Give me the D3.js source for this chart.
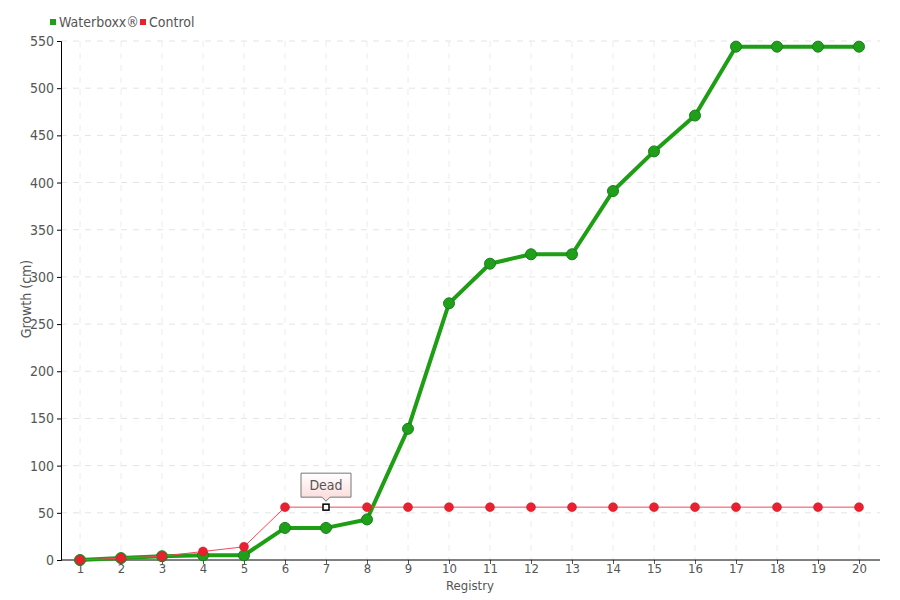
<!DOCTYPE html>
<html><head><meta charset="utf-8">
<script src="https://cdn.jsdelivr.net/npm/d3@7"></script>
<style>
body{margin:0;background:#fff;}
text{font-family:"DejaVu Sans Condensed","Liberation Sans Narrow","Roboto Condensed",sans-serif;}
</style></head>
<body><svg id="c" width="900" height="600"></svg>
<script>
const registry = [1,2,3,4,5,6,7,8,9,10,11,12,13,14,15,16,17,18,19,20];
const waterboxx = [0,2,4,5,5,34,34,43,139,272,314,324,324,391,433,471,544,544,544,544];
const control = [0,2,4,9,14,56,56,56,56,56,56,56,56,56,56,56,56,56,56,56];
const yTicks = [0,50,100,150,200,250,300,350,400,450,500,550];
const seriesNames = ["Waterboxx®","Control"];
const annotation = {index:6, text:"Dead"};

const svg = d3.select("#c");
const m = {l:61, r:880, t:41, b:560};
const x = d3.scaleLinear().domain([1,20]).range([80,859]);
const y = d3.scaleLinear().domain([0,550]).range([m.b,m.t]);

// grid
const g = svg.append("g");
g.selectAll("line.h").data(yTicks.slice(1)).enter().append("line")
 .attr("x1",m.l).attr("x2",m.r).attr("y1",d=>y(d)).attr("y2",d=>y(d))
 .attr("stroke","#e4e4e4").attr("stroke-dasharray","6,6");
g.selectAll("line.v").data(registry).enter().append("line")
 .attr("x1",d=>x(d)).attr("x2",d=>x(d)).attr("y1",m.t).attr("y2",m.b)
 .attr("stroke","#ececec").attr("stroke-dasharray","6,6");

// axes
const yAxis = d3.axisLeft(y).tickValues(yTicks).tickSize(4).tickPadding(3);
const ya = svg.append("g").attr("transform",`translate(${m.l},0)`).call(yAxis);
ya.select(".domain").attr("stroke","#000");
ya.selectAll(".tick line").attr("stroke","#000");
ya.selectAll("text").attr("font-size",14).attr("fill","#555");

const xAxis = d3.axisBottom(x).tickValues(registry).tickSize(4).tickPadding(0).tickFormat(d3.format("d"));
const xa = svg.append("g").attr("transform",`translate(0,${m.b})`).call(xAxis);
xa.select(".domain").remove();
xa.append("line").attr("x1",m.l).attr("x2",m.r).attr("stroke","#000");
xa.selectAll(".tick line").attr("stroke","#555");
xa.selectAll("text").attr("font-size",13).attr("fill","#555");

svg.append("text").attr("x",470).attr("y",590).attr("text-anchor","middle")
 .attr("font-size",13).attr("fill","#555").text("Registry");
svg.append("text").attr("transform","translate(31,299) rotate(-90)").attr("text-anchor","middle")
 .attr("font-size",14).attr("fill","#555").text("Growth (cm)");

// lines
const line = d3.line().x((d,i)=>x(registry[i])).y(d=>y(d));
svg.append("path").datum(waterboxx).attr("d",line).attr("fill","none")
 .attr("stroke","#1e9e14").attr("stroke-width",4).attr("stroke-linejoin","round");
svg.append("g").selectAll("circle").data(waterboxx).enter().append("circle")
 .attr("cx",(d,i)=>x(registry[i])).attr("cy",d=>y(d)).attr("r",5.5)
 .attr("fill","#20a01a").attr("stroke","#17801a").attr("stroke-width",1);

svg.append("path").datum(control).attr("d",line).attr("fill","none")
 .attr("stroke","#f0485a").attr("stroke-width",1);
const cp = svg.append("g");
control.forEach((d,i)=>{
  if(i===annotation.index){
    cp.append("rect").attr("x",x(registry[i])-3).attr("y",y(d)-3).attr("width",6).attr("height",6)
      .attr("fill","#fff").attr("stroke","#000").attr("stroke-width",1.5);
  } else {
    cp.append("circle").attr("cx",x(registry[i])).attr("cy",y(d)).attr("r",4.5)
      .attr("fill","#e8202f").attr("stroke","#d81828").attr("stroke-width",0.5);
  }
});

// annotation
const defs = svg.append("defs");
const gr = defs.append("linearGradient").attr("id","pk").attr("x1",0).attr("x2",0).attr("y1",0).attr("y2",1);
gr.append("stop").attr("offset","0").attr("stop-color","#ffffff");
gr.append("stop").attr("offset","1").attr("stop-color","#fbd8d8");
const ax = x(registry[annotation.index]), ay = y(control[annotation.index]);
const bw=50,bh=24,bx=ax-25,by=ay-34;
svg.append("path").attr("d",`M${bx},${by}h${bw}v${bh}h${-(bw/2-4)}l-4,4l-4,-4h${-(bw/2-4)}z`)
 .attr("fill","url(#pk)").attr("stroke","#777").attr("stroke-width",1);
svg.append("text").attr("x",ax).attr("y",by+17).attr("text-anchor","middle")
 .attr("font-size",14).attr("fill","#555").text(annotation.text);

// legend
const leg = svg.append("g");
const lc = ["#22a01a","#e8202f"], lx=[50,140];
seriesNames.forEach((n,i)=>{
  leg.append("rect").attr("x",lx[i]).attr("y",19).attr("width",6).attr("height",6).attr("fill",lc[i]);
  leg.append("text").attr("x",lx[i]+9).attr("y",27).attr("font-size",14).attr("fill","#555").text(n);
});
</script></body></html>
